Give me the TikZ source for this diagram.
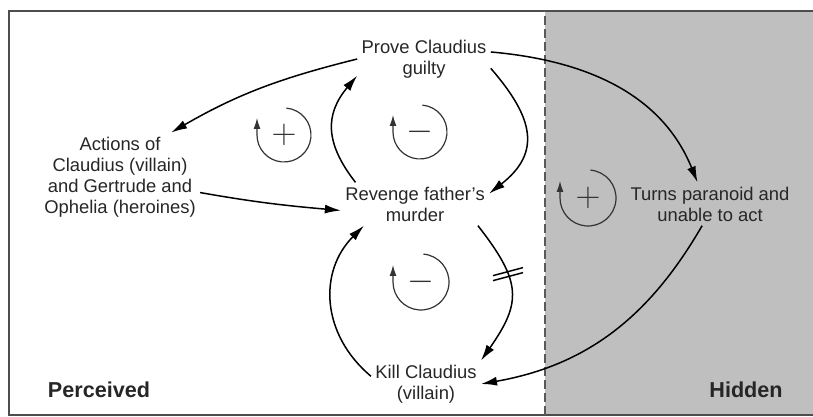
\documentclass[tikz,border=0pt]{standalone}
\usepackage{fontspec}
\setmainfont{Liberation Sans}
\usepackage{tikz}
\usetikzlibrary{arrows.meta,calc}
\definecolor{hiddengray}{HTML}{BFBFBF}
\definecolor{framegray}{HTML}{4D4D4D}

\begin{document}
\begin{tikzpicture}[x=0.5pt,y=0.5pt,
  var/.style={align=center, inner sep=2pt, text=black!85, font=\fontsize{9.2}{10.5}\selectfont},
  side/.style={text=black!85, font=\fontsize{10.8}{12}\selectfont\bfseries},
  cause/.style={line width=0.75pt, -{Latex[length=8pt,width=4.5pt]}},
  loopmark/.style={line width=0.6pt, black!80, -{Latex[length=5.5pt,width=3.5pt]}},
  sign/.style={inner sep=0pt, text=black!80, font=\fontsize{17}{17}\selectfont}]
\useasboundingbox (0,0) rectangle (813,417);
\fill[hiddengray] (545,2) rectangle (813,406);
\draw[framegray, line width=1pt] (813,406) -- (9,406) -- (9,2) -- (813,2);
\draw[gray!70!black, line width=1pt, dash pattern=on 4.5pt off 2pt] (545,2) -- (545,406);

% variables
\node[var] (prove) at (424,358) {Prove Claudius\\guilty};
\node[var] (actions) at (120,240) {Actions of\\Claudius (villain)\\and Gertrude and\\Ophelia (heroines)};
\node[var] (revenge) at (415,213) {Revenge father's\\murder};
\node[var] (kill) at (426,33) {Kill Claudius\\(villain)};
\node[var] (paranoid) at (710,213) {Turns paranoid and\\unable to act};
\node[side] (perceived) at (99,27) {Perceived};
\node[side] (hidden) at (746,27) {Hidden};

% causal links
\draw[cause] (prove.west) to[out=194, in=30] (actions.41);
\draw[cause] (actions.-11) to[out=-10, in=175] (revenge.185);
\draw[cause] (revenge.160) to[out=128, in=230, looseness=1.2] (prove.194);
\draw[cause] (prove.-8) to[out=-49, in=38, looseness=1.35] (revenge.8);
\draw[cause] (kill.172) to[out=140, in=225, looseness=1.1] (revenge.203);
\draw[cause] (revenge.-19) to[out=-52, in=55, looseness=1.35] coordinate[pos=0.35] (delay) (kill.north east);
\draw[cause] (prove.6) to[out=-5, in=112] (paranoid.120);
\draw[cause] (paranoid.250) to[out=240, in=10] (kill.east);
\draw[line width=0.75pt] ($(delay)+(-15,-1)$) -- ++(30,8) ($(delay)+(-15,-6)$) -- ++(30,8);

% loop polarity
\draw[loopmark] (284,282) ++(85:27) arc[start angle=85, end angle=-180, radius=27] -- ++(0,17);
\node[sign] (plusleft) at (284,282) {$+$};
\draw[loopmark] (420,285) ++(85:27) arc[start angle=85, end angle=-180, radius=27] -- ++(0,17);
\node[sign] (minustop) at (420,285) {$-$};
\draw[loopmark] (421,135) ++(85:28) arc[start angle=85, end angle=-180, radius=28] -- ++(0,17);
\node[sign] (minusbottom) at (421,135) {$-$};
\draw[loopmark] (588,219) ++(85:28) arc[start angle=85, end angle=-180, radius=28] -- ++(0,17);
\node[sign] (plusright) at (588,219) {$+$};
\end{tikzpicture}
\end{document}
